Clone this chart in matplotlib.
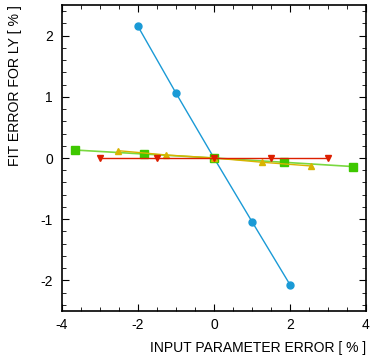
import numpy as np
from matplotlib import pyplot as plt
from matplotlib.ticker import MultipleLocator

plt.rcParams['font.family'] = ['Liberation Sans', 'DejaVu Sans']
plt.rcParams['axes.unicode_minus'] = False

# data
x_blue = [-2, -1, 0, 1, 2]
y_blue = [2.15, 1.06, 0.0, -1.04, -2.07]
x_green = [-3.65, -1.84, 0, 1.84, 3.66]
y_green = [0.13, 0.065, 0.0, -0.07, -0.14]
x_yellow = [-2.53, -1.27, 0, 1.27, 2.55]
y_yellow = [0.12, 0.05, 0.0, -0.07, -0.13]
x_red = [-3, -1.5, 0, 1.5, 3]
y_red = [0.0, 0.0, 0.0, 0.0, 0.0]

fig = plt.figure(figsize=(3.71, 3.56), dpi=100)
ax = fig.add_axes([62/371, 1-311/356, (366-62)/371, (311-5)/356])

ax.plot(x_blue, y_blue, '-o', color='#1a9ad6', lw=1, ms=5)
ax.plot(x_green, y_green, '-', color='#7ad840', lw=1.2)
ax.plot(x_green, y_green, 's', color='#3ec800', ms=5.5)
ax.plot(x_yellow, y_yellow, '-^', color='#d8b400', lw=1, ms=5)
ax.plot(x_red, y_red, '-v', color='#dc1e00', lw=1, ms=5)

ax.set_xlim(-4, 4)
ax.set_ylim(-2.5, 2.5)
ax.xaxis.set_major_locator(MultipleLocator(2))
ax.xaxis.set_minor_locator(MultipleLocator(0.5))
ax.yaxis.set_major_locator(MultipleLocator(1))
ax.yaxis.set_minor_locator(MultipleLocator(0.2))
ax.tick_params(which='both', direction='in', top=True, right=True, labelsize=10)
ax.tick_params(which='major', length=5)
ax.tick_params(which='minor', length=3)
ax.tick_params(axis='x', which='both', pad=5)
ax.tick_params(axis='y', which='both', pad=6.5)
for s in ax.spines.values():
    s.set_linewidth(1.2)

ax.set_xlabel('INPUT PARAMETER ERROR [ % ]', fontsize=10, ha='right', va='center')
ax.xaxis.set_label_coords(1.0, (311-348)/306)
ax.set_ylabel('FIT ERROR FOR LY [ % ]', fontsize=10.2, ha='right', va='center')
ax.yaxis.set_label_coords((15-62)/304, 1.0)

fig.savefig('out.png', dpi=100)
